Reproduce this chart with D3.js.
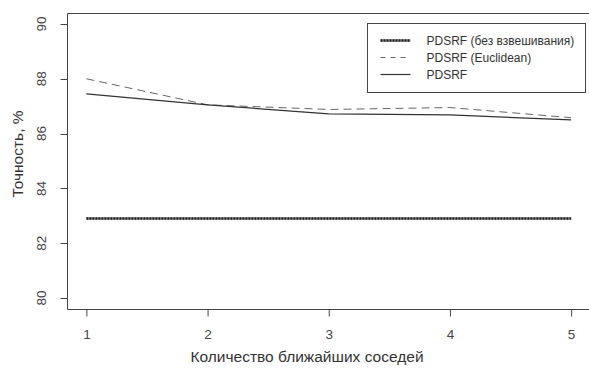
<!DOCTYPE html>
<html>
<head>
<meta charset="utf-8">
<script src="https://cdn.jsdelivr.net/npm/d3@7"></script>
<style>
  body { margin: 0; background: #fff; }
  text { font-family: "Liberation Sans", Arial, sans-serif; fill: #333; }
</style>
</head>
<body>
<div id="chart"></div>
<script>
// data
const neighbours = [1, 2, 3, 4, 5];
const pdsrfPlain = [82.9, 82.9, 82.9, 82.9, 82.9];
const pdsrfEuclid = [88.0, 87.05, 86.88, 86.95, 86.58];
const pdsrf = [87.45, 87.05, 86.72, 86.68, 86.5];
const yTicks = [80, 82, 84, 86, 88, 90];
const legendLabels = ["PDSRF (без взвешивания)", "PDSRF (Euclidean)", "PDSRF"];

const W = 589, H = 372;
const margin = {top: 13, left: 67, bottom: 63};

const svg = d3.select("#chart").append("svg")
  .attr("width", W)
  .attr("height", H);

// R-style 4% padding on both axes
const x = d3.scaleLinear().domain([0.84, 5.16]).range([margin.left, 590.5]);
const y = d3.scaleLinear().domain([79.6, 90.4]).range([H - margin.bottom, margin.top]);

// plot frame (right side is cut off in the original)
svg.append("path")
  .attr("d", `M${W},${margin.top + 0.5}H${margin.left + 0.5}V${H - margin.bottom + 0.5}H${W}`)
  .attr("fill", "none")
  .attr("stroke", "#444")
  .attr("stroke-width", 1);

const yAxis = svg.append("g")
  .attr("transform", `translate(${margin.left - 6.5},0)`)
  .call(d3.axisLeft(y).tickValues(yTicks).tickSize(7).tickSizeOuter(0));
yAxis.select(".domain").remove();
yAxis.selectAll(".tick").attr("transform", "translate(0,0)");
yAxis.selectAll(".tick line")
  .attr("stroke", "#444")
  .attr("x1", 0).attr("x2", 7)
  .attr("y1", d => Math.round(y(d)) + 0.5)
  .attr("y2", d => Math.round(y(d)) + 0.5);
yAxis.selectAll("text")
  .attr("transform", d => `translate(-19,${y(d)}) rotate(-90)`)
  .attr("x", 0).attr("y", 0).attr("dy", "0.35em")
  .attr("text-anchor", "middle")
  .style("font-size", "13.5px")
  .style("fill", "#444");

const xAxis = svg.append("g")
  .attr("transform", `translate(0,${H - margin.bottom + 0.5})`)
  .call(d3.axisBottom(x).tickValues(neighbours).tickSize(7).tickFormat(d3.format("d")));
xAxis.select(".domain").remove();
xAxis.selectAll("line").attr("stroke", "#444");
xAxis.selectAll("text")
  .attr("y", 20)
  .style("font-size", "13.5px")
  .style("fill", "#444");

svg.append("text")
  .attr("x", 307).attr("y", 362)
  .attr("text-anchor", "middle")
  .style("font-size", "15.5px")
  .text("Количество ближайших соседей");

svg.append("text")
  .attr("transform", `translate(23,154) rotate(-90)`)
  .attr("text-anchor", "middle")
  .style("font-size", "15.5px")
  .text("Точность, %");

const line = d3.line().x((d, i) => x(neighbours[i])).y(d => y(d));

// hatched thick line: grey base with dark dashes
svg.append("path").datum(pdsrfPlain).attr("d", line)
  .attr("fill", "none").attr("stroke", "#999").attr("stroke-width", 2.5);
svg.append("path").datum(pdsrfPlain).attr("d", line)
  .attr("fill", "none").attr("stroke", "#222").attr("stroke-width", 2.5)
  .attr("stroke-dasharray", "2,1");

svg.append("path").datum(pdsrfEuclid).attr("d", line)
  .attr("fill", "none").attr("stroke", "#666").attr("stroke-width", 1)
  .attr("stroke-dasharray", "8,5");

svg.append("path").datum(pdsrf).attr("d", line)
  .attr("fill", "none").attr("stroke", "#333").attr("stroke-width", 1.2);

// legend
const lg = svg.append("g").attr("transform", "translate(367.5,23.5)");
lg.append("rect").attr("width", 218).attr("height", 69)
  .attr("fill", "#fff").attr("stroke", "#444");

const rows = [
  {stroke: "#222", width: 2.5, dash: "2,1", base: true},
  {stroke: "#666", width: 1, dash: "5,5"},
  {stroke: "#333", width: 1.2, dash: null}
];
rows.forEach((r, i) => {
  const yy = 17 + i * 17;
  if (r.base) {
    lg.append("line").attr("x1", 13).attr("x2", 43).attr("y1", yy).attr("y2", yy)
      .attr("stroke", "#999").attr("stroke-width", 2.5);
  }
  lg.append("line").attr("x1", 13).attr("x2", 43).attr("y1", yy).attr("y2", yy)
    .attr("stroke", r.stroke).attr("stroke-width", r.width)
    .attr("stroke-dasharray", r.dash);
  lg.append("text").attr("x", 59).attr("y", yy).attr("dy", "0.35em")
    .style("font-size", "12px")
    .text(legendLabels[i]);
});
</script>
</body>
</html>
